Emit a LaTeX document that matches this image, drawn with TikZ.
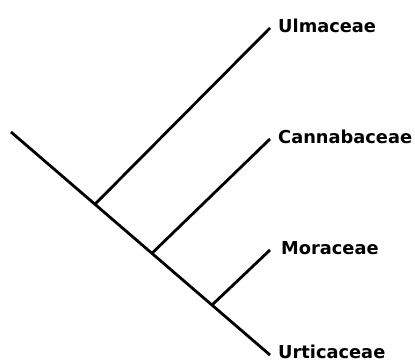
\documentclass[tikz,border=0pt]{standalone}
\usepackage{fontspec}
\setmainfont{DejaVu Sans}
\usetikzlibrary{calc}

\begin{document}
\begin{tikzpicture}[x=1pt,y=-1pt]
			\tikzstyle{branch}=[line width=2.8pt]
			\tikzstyle{taxon}=[anchor=base west,inner sep=0pt,font=\bfseries\fontsize{17.8}{20}\selectfont]
			\useasboundingbox (0,0) rectangle (415,363);
			
			\coordinate (root) at (11,132);
			\coordinate (urtTip) at (270,355);
			\coordinate (ulmTip) at (270,28);
			\coordinate (canTip) at (270,139);
			\coordinate (morTip) at (270,250);
			\coordinate (split1) at ($(root)!0.324!(urtTip)$);
			\coordinate (split2) at ($(root)!0.544!(urtTip)$);
			\coordinate (split3) at ($(root)!0.776!(urtTip)$);
			
			\node[taxon] (ulm) at ($(ulmTip)+(8,5)$) {Ulmaceae};
			\node[taxon] (can) at ($(canTip)+(8,5)$) {Cannabaceae};
			\node[taxon] (mor) at ($(morTip)+(11,5)$) {Moraceae};
			\node[taxon] (urt) at ($(urtTip)+(8,4)$) {Urticaceae};
			
			\draw[branch] (root) -- (urtTip);
			\draw[branch] (split1) -- (ulmTip);
			\draw[branch] (split2) -- (canTip);
			\draw[branch] (split3) -- (morTip);
			\end{tikzpicture}
\end{document}
